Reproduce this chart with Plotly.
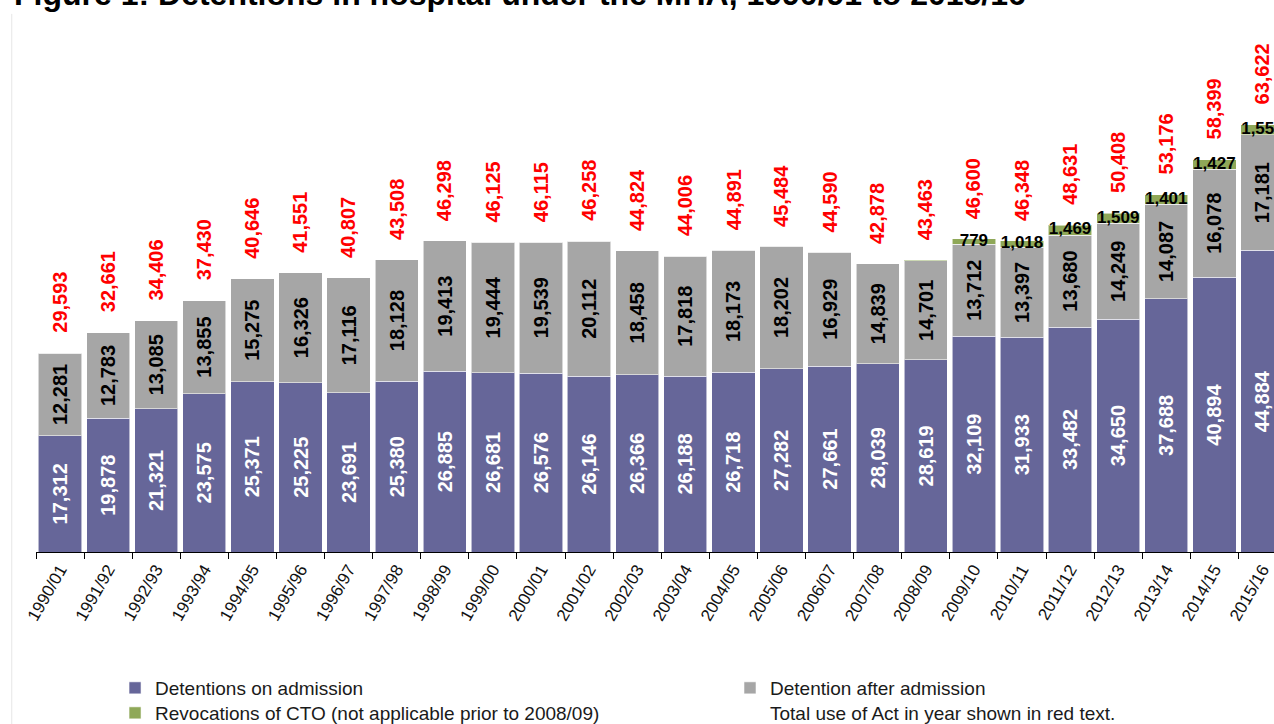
import plotly.graph_objects as go

# Financial years
years = ["1990/01", "1991/92", "1992/93", "1993/94", "1994/95", "1995/96", "1996/97",
         "1997/98", "1998/99", "1999/00", "2000/01", "2001/02", "2002/03", "2003/04",
         "2004/05", "2005/06", "2006/07", "2007/08", "2008/09", "2009/10", "2010/11",
         "2011/12", "2012/13", "2013/14", "2014/15", "2015/16"]

# Detentions on admission
on_admission = [17312, 19878, 21321, 23575, 25371, 25225, 23691, 25380, 26885, 26681,
                26576, 26146, 26366, 26188, 26718, 27282, 27661, 28039, 28619, 32109,
                31933, 33482, 34650, 37688, 40894, 44884]

# Detention after admission
after_admission = [12281, 12783, 13085, 13855, 15275, 16326, 17116, 18128, 19413, 19444,
                   19539, 20112, 18458, 17818, 18173, 18202, 16929, 14839, 14701, 13712,
                   13397, 13680, 14249, 14087, 16078, 17181]

# Revocations of CTO (introduced 2008/09)
revocations = [0, 0, 0, 0, 0, 0, 0, 0, 0, 0, 0, 0, 0, 0, 0, 0, 0, 0,
               143, 779, 1018, 1469, 1509, 1401, 1427, 1557]
# Revocation counts written on the bars (first partial year is left unlabelled)
revocation_labelled = [False] * 19 + [True] * 7

totals = [a + b + c for a, b, c in zip(on_admission, after_admission, revocations)]

FONT = "Liberation Sans, Arial, sans-serif"
PURPLE = "#666699"
GREY = "#A6A6A6"
GREEN = "#8FA858"
EDGE = dict(color="rgba(255,255,255,0.55)", width=1)

fig = go.Figure()

fig.add_trace(go.Bar(
    x=years, y=on_admission, name="Detentions on admission",
    marker=dict(color=PURPLE, line=EDGE),
    texttemplate="%{y:,}", textposition="inside", insidetextanchor="middle",
    textangle=-90, textfont=dict(family=FONT, size=20, color="white", weight="bold"),
    legend="legend", hoverinfo="skip",
))
fig.add_trace(go.Bar(
    x=years, y=after_admission, name="Detention after admission",
    marker=dict(color=GREY, line=EDGE),
    texttemplate="%{y:,}", textposition="inside", insidetextanchor="middle",
    textangle=-90, textfont=dict(family=FONT, size=20, color="black", weight="bold"),
    legend="legend2", hoverinfo="skip",
))
fig.add_trace(go.Bar(
    x=years, y=revocations, name="Revocations of CTO (not applicable prior to 2008/09)",
    marker=dict(color=GREEN, line=EDGE),
    legend="legend3", hoverinfo="skip",
))

# Revocation counts, centred on the green segments
rev_mid = [a + b + c / 2 for a, b, c in zip(on_admission, after_admission, revocations)]
rev_text = [f"{v:,}" if show else "" for v, show in zip(revocations, revocation_labelled)]
fig.add_trace(go.Scatter(
    x=years, y=rev_mid, mode="text", text=rev_text, textposition="middle center",
    textfont=dict(family=FONT, size=17, color="black", weight="bold"),
    showlegend=False, cliponaxis=False, hoverinfo="skip",
))

# Legend-only entry explaining the red totals
fig.add_trace(go.Scatter(
    x=[None], y=[None], mode="markers", marker=dict(color="rgba(0,0,0,0)"),
    name="Total use of Act in year shown in red text.", legend="legend4",
    showlegend=True,
))

# Totals in red above each stack
for yr, tot in zip(years, totals):
    fig.add_annotation(
        x=yr, y=tot, text=f"{tot:,}", textangle=-90, showarrow=False,
        xanchor="center", yanchor="bottom", yshift=18,
        font=dict(family=FONT, size=20, color="#FF0000", weight="bold"),
    )

# Figure heading
fig.add_annotation(
    xref="paper", yref="paper", x=0, y=1, xanchor="left", yanchor="bottom",
    xshift=-24, yshift=26, showarrow=False,
    text="<b>Figure 1: Detentions in hospital under the MHA, 1990/91 to 2015/16</b>",
    font=dict(family=FONT, size=32, color="black"),
)

# Faint chart-area edge on the left
fig.add_shape(type="line", xref="paper", yref="paper",
              x0=-0.0196, x1=-0.0196, y0=-0.34, y1=1.051,
              line=dict(color="#E6E6E6", width=1))

legend_font = dict(family=FONT, size=19, color="#1A1A1A")
common = dict(orientation="v", xref="container", yref="container", xanchor="left",
              yanchor="middle", font=legend_font, bgcolor="rgba(0,0,0,0)", borderwidth=0)

fig.update_layout(
    width=1274, height=724,
    margin=dict(l=36, r=0, t=40, b=172, autoexpand=False),
    paper_bgcolor="white", plot_bgcolor="white",
    barmode="stack", bargap=0.1,
    font=dict(family=FONT),
    showlegend=True,
    legend=dict(x=0.0903, y=1 - 688 / 724, **common),
    legend2=dict(x=0.573, y=1 - 688 / 724, **common),
    legend3=dict(x=0.0903, y=1 - 713 / 724, **common),
    legend4=dict(x=0.573, y=1 - 713 / 724, **common),
    xaxis=dict(
        type="category", range=[-0.5, 25.24],
        showline=True, linecolor="black", linewidth=1,
        ticks="outside", tickson="boundaries", ticklen=6, tickcolor="black",
        tickangle=-60, tickfont=dict(family=FONT, size=17, color="#111111"),
        showgrid=False, zeroline=False,
    ),
    yaxis=dict(visible=False, range=[0, 76200], showgrid=False, zeroline=False),
)

fig.write_html("out.html")
